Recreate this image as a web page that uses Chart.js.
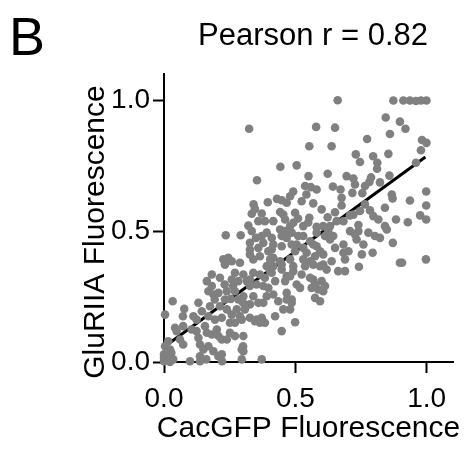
<!DOCTYPE html>
<html><head><meta charset="utf-8">
<script src="https://cdn.jsdelivr.net/npm/chart.js@4.4.1/dist/chart.umd.min.js"></script>
<style>html,body{margin:0;padding:0;background:#fff;}#wrap{width:476px;height:452px;}</style>
</head><body><div id="wrap"><canvas id="c" width="476" height="452"></canvas></div>
<script>
const cacGFP = [
0.661,0.873,0.911,0.936,0.959,0.978,0.999,0.844,0.898,0.919,0.579,0.651,0.324,0.860,0.773,0.982,0.999,0.553,0.638,0.978,
0.730,0.796,0.854,0.746,0.812,0.811,0.959,0.505,0.443,0.623,0.550,0.695,0.721,0.727,0.788,0.782,0.765,0.822,0.858,0.354,
0.537,0.559,0.581,0.542,0.492,0.480,0.643,0.672,0.676,0.717,0.755,0.867,0.870,0.998,0.430,0.448,0.467,0.395,0.341,0.524,
0.568,0.676,0.936,0.998,0.841,0.346,0.334,0.372,0.442,0.454,0.499,0.510,0.553,0.651,0.600,0.721,0.746,0.784,0.797,0.765,
0.975,0.998,0.623,0.883,0.928,0.816,0.683,0.657,0.632,0.581,0.606,0.530,0.740,0.841,0.359,0.384,0.321,0.492,0.480,0.461,
0.416,0.442,0.549,0.708,0.625,0.613,0.581,0.644,0.632,0.708,0.727,0.733,0.740,0.778,0.803,0.822,0.848,0.871,0.486,0.530,
0.556,0.568,0.461,0.448,0.486,0.530,0.543,0.581,0.594,0.606,0.575,0.651,0.683,0.683,0.702,0.689,0.638,0.753,0.759,0.794,
0.742,0.499,0.235,0.292,0.350,0.372,0.391,0.410,0.467,0.511,0.327,0.378,0.416,0.448,0.505,0.334,0.327,0.359,0.365,0.410,
0.416,0.226,0.245,0.232,0.258,0.289,0.327,0.340,0.397,0.404,0.416,0.442,0.448,0.480,0.492,0.530,0.556,0.537,0.568,0.594,
0.619,0.606,0.663,0.689,0.898,0.906,0.997,0.492,0.480,0.524,0.505,0.518,0.568,0.575,0.600,0.562,0.606,0.587,0.575,0.594,
0.486,0.480,0.499,0.391,0.404,0.448,0.467,0.182,0.163,0.182,0.213,0.258,0.270,0.302,0.283,0.315,0.340,0.327,0.353,0.365,
0.384,0.378,0.410,0.423,0.397,0.461,0.556,0.613,0.169,0.188,0.207,0.239,0.232,0.254,0.270,0.283,0.302,0.340,0.327,0.359,
0.391,0.378,0.416,0.435,0.467,0.486,0.454,0.423,0.448,0.327,0.467,0.353,0.365,0.296,0.302,0.296,0.372,0.231,0.263,0.193,
0.301,0.033,0.004,0.077,0.072,0.131,0.144,0.175,0.169,0.194,0.112,0.124,0.213,0.220,0.239,0.258,0.251,0.277,0.289,0.270,
0.308,0.327,0.346,0.372,0.384,0.042,0.048,0.073,0.105,0.124,0.156,0.163,0.182,0.201,0.207,0.220,0.251,0.239,0.270,0.016,
0.004,0.023,0.000,0.016,0.035,0.061,0.073,0.131,0.137,0.150,0.169,0.188,0.207,0.220,0.137,0.137,0.099,0.302,0.296,0.000,
0.023,0.221,0.161,0.028,0.000,0.301
];
const gluRIIA = [
1.000,0.999,0.999,0.999,0.997,0.999,0.999,0.934,0.918,0.891,0.898,0.895,0.891,0.871,0.852,0.848,0.837,0.824,0.824,0.809,
0.793,0.786,0.795,0.764,0.761,0.738,0.761,0.751,0.746,0.719,0.710,0.710,0.701,0.678,0.705,0.688,0.672,0.686,0.712,0.694,
0.672,0.668,0.659,0.640,0.651,0.633,0.670,0.659,0.627,0.646,0.645,0.640,0.625,0.651,0.623,0.618,0.608,0.610,0.602,0.614,
0.606,0.598,0.617,0.598,0.589,0.585,0.566,0.567,0.573,0.563,0.570,0.548,0.551,0.572,0.583,0.563,0.577,0.579,0.557,0.602,
0.560,0.544,0.553,0.544,0.534,0.544,0.538,0.538,0.519,0.516,0.519,0.519,0.523,0.519,0.538,0.538,0.521,0.532,0.519,0.544,
0.538,0.506,0.533,0.560,0.500,0.481,0.494,0.481,0.468,0.500,0.487,0.468,0.500,0.494,0.481,0.474,0.506,0.455,0.494,0.481,
0.461,0.449,0.500,0.481,0.449,0.436,0.417,0.442,0.423,0.411,0.404,0.436,0.449,0.417,0.423,0.392,0.385,0.411,0.449,0.417,
0.364,0.423,0.484,0.484,0.474,0.481,0.494,0.474,0.474,0.481,0.455,0.455,0.449,0.442,0.449,0.500,0.430,0.436,0.404,0.430,
0.398,0.392,0.398,0.372,0.385,0.379,0.411,0.392,0.423,0.392,0.366,0.385,0.372,0.392,0.366,0.392,0.385,0.366,0.372,0.366,
0.353,0.372,0.347,0.347,0.379,0.379,0.392,0.347,0.328,0.334,0.296,0.283,0.315,0.296,0.309,0.283,0.270,0.277,0.245,0.232,
0.239,0.201,0.152,0.366,0.347,0.353,0.328,0.334,0.309,0.290,0.322,0.315,0.341,0.334,0.309,0.309,0.341,0.290,0.296,0.334,
0.322,0.290,0.341,0.309,0.283,0.309,0.322,0.290,0.270,0.258,0.264,0.270,0.239,0.241,0.270,0.239,0.251,0.251,0.220,0.226,
0.251,0.226,0.258,0.232,0.239,0.226,0.201,0.175,0.118,0.315,0.264,0.162,0.150,0.162,0.099,0.048,0.010,0.296,0.290,0.239,
0.226,0.232,0.181,0.203,0.175,0.226,0.194,0.213,0.175,0.162,0.175,0.162,0.213,0.169,0.201,0.181,0.150,0.201,0.175,0.150,
0.201,0.169,0.156,0.169,0.150,0.131,0.118,0.137,0.124,0.118,0.137,0.112,0.105,0.124,0.099,0.086,0.112,0.086,0.099,0.079,
0.060,0.048,0.029,0.010,0.010,0.086,0.067,0.092,0.067,0.048,0.060,0.041,0.022,0.029,0.022,0.003,0.003,0.041,0.010,0.003,
0.000,0.003,0.010,0.035,0.016,0.060
];
const fitX = [0.0, 0.995];
const fitY = [0.057, 0.783];
const tickValues = [0, 0.5, 1.0];
const tickLabels = ['0.0', '0.5', '1.0'];
const panelLetter = 'B';
const titleText = 'Pearson r = 0.82';
const xTitle = 'CacGFP Fluorescence';
const yTitle = 'GluRIIA Fluorescence';

const FONT = '"Liberation Sans", Arial, Helvetica, sans-serif';
const points = cacGFP.map((x, i) => ({x: x, y: gluRIIA[i]}));
const fitLine = fitX.map((x, i) => ({x: x, y: fitY[i]}));

const textPlugin = {
  id: 'texts',
  afterDraw(chart) {
    const ctx = chart.ctx;
    const a = chart.chartArea;
    ctx.save();
    ctx.fillStyle = '#000';
    ctx.textBaseline = 'alphabetic';
    ctx.font = '54px ' + FONT;
    ctx.textAlign = 'left';
    ctx.fillText(panelLetter, 9, 55);
    ctx.font = '31px ' + FONT;
    ctx.textAlign = 'center';
    ctx.fillText(titleText, 313, 45);
    ctx.font = '30px ' + FONT;
    ctx.fillText(xTitle, (a.left + a.right) / 2, 437);
    ctx.translate(104, 232);
    ctx.rotate(-Math.PI / 2);
    ctx.fillText(yTitle, 0, 0);
    ctx.restore();
  }
};

function axis(extra, pad) {
  return Object.assign({
    type: 'linear',
    min: 0,
    max: 1.1,
    afterBuildTicks: s => { s.ticks = tickValues.map(v => ({value: v})); },
    ticks: {
      callback: v => tickLabels[tickValues.indexOf(v)],
      font: {family: FONT, size: 28},
      color: '#000',
      padding: pad,
      maxRotation: 0,
      autoSkip: false
    },
    grid: {drawOnChartArea: false, drawTicks: true, tickLength: 11, tickColor: '#000', tickWidth: 2},
    border: {color: '#000', width: 2}
  }, extra);
}

new Chart(document.getElementById('c'), {
  data: {
    datasets: [
      {
        type: 'scatter',
        data: points,
        backgroundColor: '#808080',
        borderWidth: 0,
        pointRadius: 4.3,
        pointHoverRadius: 4.3,
        clip: false,
        order: 0
      },
      {
        type: 'line',
        data: fitLine,
        borderColor: '#000',
        borderWidth: 3,
        pointRadius: 0,
        fill: false,
        clip: false,
        order: 1
      }
    ]
  },
  options: {
    responsive: false,
    devicePixelRatio: 1,
    animation: false,
    events: [],
    layout: {padding: {left: 0, right: 23, top: 74, bottom: 0}},
    plugins: {legend: {display: false}, tooltip: {enabled: false}, title: {display: false}},
    scales: {
      x: axis({position: 'bottom', afterFit: s => { s.height = 90; }}, 9),
      y: axis({position: 'left', afterFit: s => { s.width = 164; }}, 3)
    }
  },
  plugins: [textPlugin]
});
</script>
</body></html>
